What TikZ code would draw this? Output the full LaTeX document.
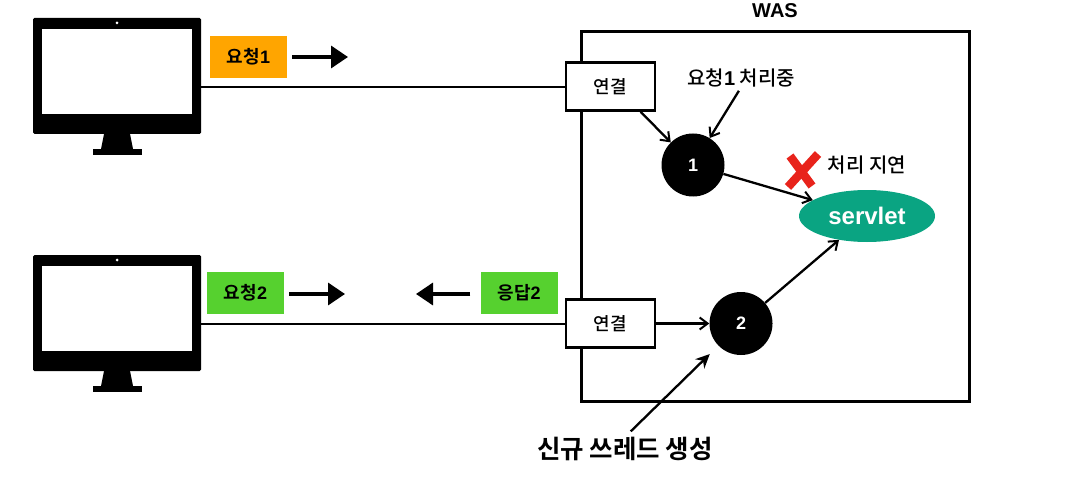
\documentclass[tikz,border=0pt]{standalone}
\usepackage{fontspec}
\setmainfont{Noto Sans CJK KR}[UprightFont=* Medium, BoldFont=* Bold]
\newfontfamily\latinbold{Liberation Sans Bold}
\usetikzlibrary{arrows.meta, shapes.geometric}
\definecolor{reqorange}{HTML}{FFA500}
\definecolor{reqgreen}{HTML}{56D12F}
\definecolor{servletgreen}{HTML}{0AA482}
\definecolor{failred}{HTML}{E8231B}
\tikzset{
  % Connection box on the WAS border
  connbox/.style={
    draw, line width=2.6pt, fill=white, inner sep=0pt,
    minimum width=89pt, minimum height=48pt, font=\fontsize{18}{18}\selectfont
  },
  % Request and response tags
  msgtag/.style={
    inner sep=0pt, minimum width=77pt, minimum height=42pt,
    font=\fontsize{18}{18}\selectfont\bfseries
  },
  threadnode/.style={
    circle, fill=black, text=white, inner sep=0pt,
    minimum size=63pt, font=\fontsize{18}{18}\selectfont\latinbold
  },
  note/.style={inner sep=0pt, font=\fontsize{20}{20}\selectfont},
  % Thin arrow between nodes
  flow/.style={
    -{Straight Barb[length=8pt,width=12pt,line width=2pt]}, line width=2.3pt
  },
  wire/.style={line width=2.2pt},
  % Arrow next to a tag
  sendarrow/.style={
    -{Triangle[length=17pt,width=22pt]}, line width=3.4pt
  },
}
\newcommand{\pcmonitor}[2]{%
  \begin{scope}[shift={(#2)}]
    \fill[rounded corners=1.5pt] (33,18) rectangle (201,134);   % body
    \fill[white] (42,29) rectangle (192,114);                   % screen
    \fill[white] (117,23) circle (1.5);                         % camera
    \fill (104,134) -- (130,134) -- (133,149) -- (101,149) -- cycle; % stand
    \fill (93,149) rectangle (142,155);                         % base
    \coordinate (#1) at (201,87);
  \end{scope}
}

\begin{document}
\begin{tikzpicture}[x=1pt, y=-1pt]
  \useasboundingbox (0,0) rectangle (1083,481);

  %% -- Computers --
  \pcmonitor{pcA}{0,0}
  \pcmonitor{pcB}{0,237}

  %% -- WAS --
  \node[draw, line width=2.6pt, minimum width=388pt, minimum height=370pt, inner sep=0pt] (was) at (775.5,216.5) {};
  \node[note, font=\fontsize{20}{20}\selectfont\latinbold] (wasLabel) at (775,11) {WAS};

  %% -- Connections --
  \node[connbox] (connA) at (610.5,86.5) {연결};
  \node[connbox] (connB) at (610.5,323.5) {연결};

  %% -- Threads and servlet --
  \node[threadnode] (threadA) at (693,165) {1};
  \node[threadnode] (threadB) at (741,323.5) {2};
  \node[ellipse, fill=servletgreen, text=white, minimum width=136pt, minimum height=52pt, inner sep=0pt,
        font=\fontsize{24}{24}\selectfont\latinbold] (servlet) at (867,216) {servlet};

  %% -- Tags --
  \node[msgtag, fill=reqorange] (reqA) at (248.5,57) {요청{\latinbold 1}};
  \node[msgtag, fill=reqgreen] (reqB) at (245.5,293) {요청{\latinbold 2}};
  \node[msgtag, fill=reqgreen] (respB) at (519,293) {응답{\latinbold 2}};
  \coordinate (reqAEnd) at (348,57);
  \coordinate (reqBEnd) at (345,294);
  \coordinate (respBEnd) at (416,294);

  %% -- Notes --
  \node[note] (noteBusy) at (741,78) {요청{\latinbold 1} 처리중};
  \node[note] (noteDelay) at (867,165) {처리 지연};
  \node[inner sep=0pt, font=\fontsize{25.5}{25.5}\selectfont\bfseries] (noteNew) at (625,449) {신규 쓰레드 생성};

  %% -- Failure mark --
  \coordinate (failMark) at (802,170);
  \draw[failred, line width=8.5pt] ([shift={(-14,17)}]failMark) -- ([shift={(16,-16)}]failMark);
  \draw[failred, line width=8.5pt] ([shift={(-12,-14)}]failMark) -- ([shift={(10,16)}]failMark);

  %% -- Connectors --
  \draw[wire] (pcA) -- (connA.west |- pcA);
  \draw[wire] (pcB) -- (connB.west |- pcB);
  \draw[flow] (connA.-40) -- (threadA);
  \draw[flow] (connB) -- (threadB);
  \draw[flow, shorten <=4pt] (noteBusy.south) -- (threadA);
  \draw[flow] (threadA) -- (servlet);
  \draw[flow] (threadB) -- (servlet);
  \draw[flow, -{Stealth[length=14pt,width=13pt]}, shorten >=12pt, shorten <=8pt] (noteNew.north) -- (threadB);
  \draw[sendarrow] (reqA.east) ++(5,0) -- (reqAEnd);
  \draw[sendarrow] (reqB.east) ++(5,1) -- (reqBEnd);
  \draw[sendarrow] (respB.west) ++(-10,1) -- (respBEnd);

\end{tikzpicture}
\end{document}
